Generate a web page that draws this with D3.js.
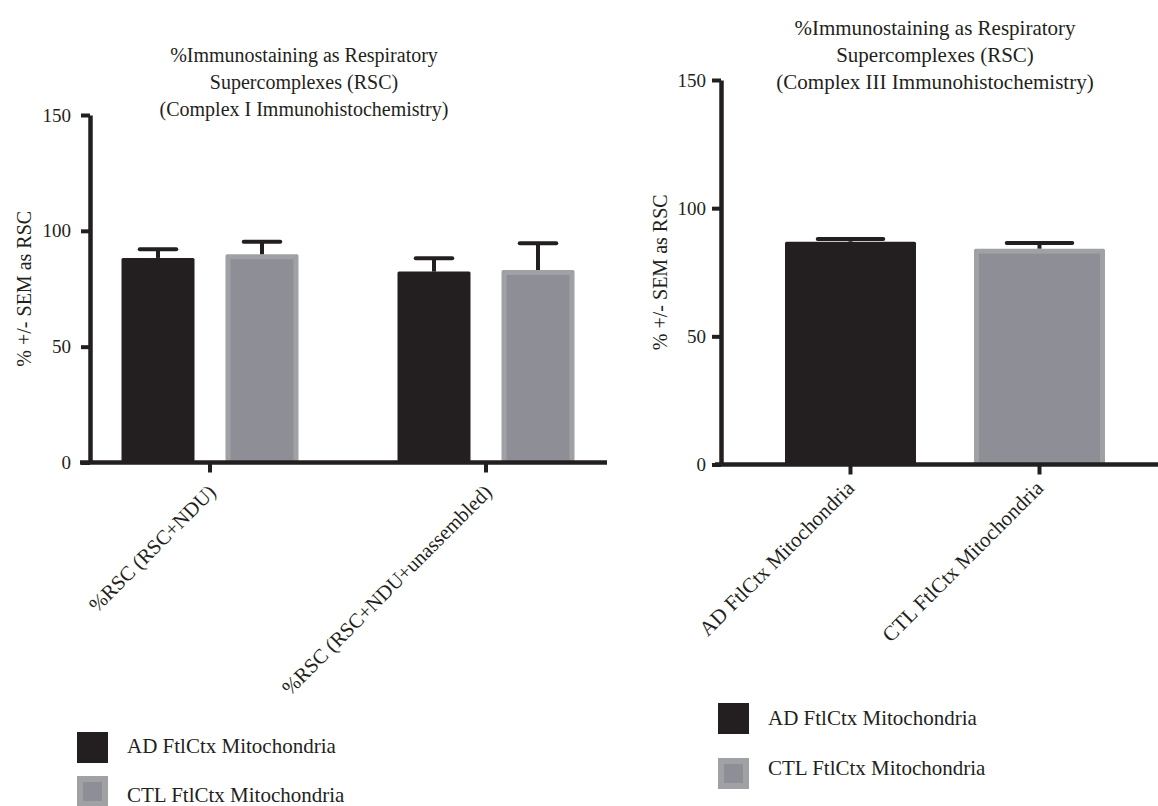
<!DOCTYPE html>
<html>
<head>
<meta charset="utf-8">
<script src="https://cdn.jsdelivr.net/npm/d3@7"></script>
<style>
  html, body { margin: 0; padding: 0; background: #fff; }
  svg { display: block; }
</style>
</head>
<body>
<svg id="chart" width="1158" height="806"></svg>
<script>
// ---- data ----
const seriesNames = ["AD FtlCtx Mitochondria", "CTL FtlCtx Mitochondria"];
const yTicks = [0, 50, 100, 150];

// Complex I panel: two measures, AD vs CTL
const complexICategories = ["%RSC (RSC+NDU)", "%RSC (RSC+NDU+unassembled)"];
const complexIAdMeans = [88.3, 82.4];
const complexIAdSem = [3.7, 5.8];
const complexICtlMeans = [89.9, 83.1];
const complexICtlSem = [5.4, 11.5];

// Complex III panel: one bar per group
const complexIIICategories = ["AD FtlCtx Mitochondria", "CTL FtlCtx Mitochondria"];
const complexIIIMeans = [86.9, 84.2];
const complexIIISem = [1.1, 2.2];

const complexITitle = ["%Immunostaining as Respiratory", "Supercomplexes (RSC)", "(Complex I Immunohistochemistry)"];
const complexIIITitle = ["%Immunostaining as Respiratory", "Supercomplexes (RSC)", "(Complex III Immunohistochemistry)"];
const yAxisTitle = "% +/- SEM as RSC";

// ---- styles ----
const FONT = "'Liberation Serif', 'Times New Roman', Tinos, serif";
const INK = "#231f20";
const GREY_EDGE = "#a0a1a5";
const GREY_FILL = "#8e8f96";
const seriesStyle = [
  { edge: INK, fill: INK },
  { edge: GREY_EDGE, fill: GREY_FILL }
];

const svg = d3.select("#chart");

function styleText(sel, size) {
  return sel.style("font-family", FONT).style("font-size", size + "px").style("fill", INK);
}

function drawBar(g, x, w, yTop, yBase, style) {
  g.append("rect").attr("x", x).attr("y", yTop).attr("width", w).attr("height", yBase - yTop)
    .attr("rx", 1.5).attr("fill", style.edge);
  if (style.fill !== style.edge) {
    const inset = 5;
    g.append("rect").attr("x", x + inset).attr("y", yTop + inset)
      .attr("width", w - 2 * inset).attr("height", Math.max(0, yBase - yTop - inset))
      .attr("fill", style.fill);
  }
}

function drawErrorBar(g, cx, w, y, mean, sem) {
  const capW = w / 2;
  g.append("line").attr("x1", cx).attr("x2", cx)
    .attr("y1", y(mean)).attr("y2", y(mean + sem))
    .attr("stroke", INK).attr("stroke-width", 4);
  g.append("line").attr("x1", cx - capW / 2).attr("x2", cx + capW / 2)
    .attr("y1", y(mean + sem)).attr("y2", y(mean + sem))
    .attr("stroke", INK).attr("stroke-width", 4).attr("stroke-linecap", "round");
}

function drawYAxis(g, y, axisX, labelGap, titleX) {
  const ax = g.append("g").attr("transform", `translate(${axisX},0)`)
    .call(d3.axisLeft(y).tickValues(yTicks).tickSize(9).tickSizeOuter(0).tickPadding(labelGap));
  ax.select(".domain").attr("stroke", INK).attr("stroke-width", 4.5);
  ax.selectAll(".tick line").attr("stroke", INK).attr("stroke-width", 4);
  styleText(ax.selectAll(".tick text"), 19);
  const [y0, y1] = y.range();
  styleText(g.append("text"), 20)
    .attr("transform", `translate(${titleX},${(y0 + y1) / 2}) rotate(-90)`)
    .attr("text-anchor", "middle")
    .text(yAxisTitle);
}

function drawXAxis(g, x, yBase, x0, x1, offX, offY, size) {
  g.append("line").attr("x1", x0).attr("x2", x1).attr("y1", yBase).attr("y2", yBase)
    .attr("stroke", INK).attr("stroke-width", 4.5);
  const ax = g.append("g").attr("transform", `translate(0,${yBase})`)
    .call(d3.axisBottom(x).tickSize(10).tickSizeOuter(0));
  ax.select(".domain").remove();
  ax.selectAll(".tick line").attr("stroke", INK).attr("stroke-width", 4);
  styleText(ax.selectAll(".tick text"), size)
    .attr("text-anchor", "end").attr("dy", 0).attr("y", 0)
    .attr("transform", `translate(${offX},${offY}) rotate(-45)`);
}

function drawTitle(g, lines, cx, firstBaseline, size) {
  const t = styleText(g.append("text"), size).attr("text-anchor", "middle");
  lines.forEach((s, i) => {
    t.append("tspan").attr("x", cx).attr("y", firstBaseline + i * 27).text(s);
  });
}

function drawLegend(g, x, ys, textX, baselines) {
  seriesNames.forEach((name, i) => {
    const top = ys[i];
    const size = 31;
    const st = seriesStyle[i];
    g.append("rect").attr("x", x).attr("y", top).attr("width", size).attr("height", size).attr("fill", st.edge);
    if (st.fill !== st.edge) {
      g.append("rect").attr("x", x + 6).attr("y", top + 6).attr("width", size - 12).attr("height", size - 12).attr("fill", st.fill);
    }
    styleText(g.append("text"), 21).attr("x", textX).attr("y", baselines[i]).text(name);
  });
}

// ---- Complex I panel ----
{
  const g = svg.append("g");
  const y = d3.scaleLinear().domain([0, 150]).range([462.5, 115]);
  const x = d3.scaleBand().domain(complexICategories).range([72, 624]);
  const inner = d3.scaleBand().domain(seriesNames).range([-88.5, 88.5]).paddingInner(0.298);
  const means = [complexIAdMeans, complexICtlMeans];
  const sems = [complexIAdSem, complexICtlSem];

  complexICategories.forEach((cat, ci) => {
    const center = x(cat) + x.bandwidth() / 2;
    seriesNames.forEach((s, si) => {
      const bx = center + inner(s);
      const w = inner.bandwidth();
      drawBar(g, bx, w, y(means[si][ci]), y(0), seriesStyle[si]);
      drawErrorBar(g, bx + w / 2, w, y, means[si][ci], sems[si][ci]);
    });
  });

  drawYAxis(g, y, 90, 10, 31);
  drawXAxis(g, x, 462.5, 80, 607, 7, 31, 20.5);
  drawTitle(g, complexITitle, 304, 62, 20);
  drawLegend(g, 77, [732, 776], 127, [753, 802]);
}

// ---- Complex III panel ----
{
  const g = svg.append("g");
  const y = d3.scaleLinear().domain([0, 150]).range([464.5, 80]);
  const x = d3.scaleBand().domain(complexIIICategories).range([756, 1134])
    .paddingInner(0.307).paddingOuter(0.1535);

  complexIIICategories.forEach((cat, i) => {
    const bx = x(cat);
    const w = x.bandwidth();
    drawBar(g, bx, w, y(complexIIIMeans[i]), y(0), seriesStyle[i]);
    drawErrorBar(g, bx + w / 2, w, y, complexIIIMeans[i], complexIIISem[i]);
  });

  drawYAxis(g, y, 721, 6, 667);
  drawXAxis(g, x, 464.5, 715, 1158, 5, 25, 21);
  drawTitle(g, complexIIITitle, 935, 35, 21);
  drawLegend(g, 718, [703, 758], 768, [725, 775]);
}
</script>
</body>
</html>
